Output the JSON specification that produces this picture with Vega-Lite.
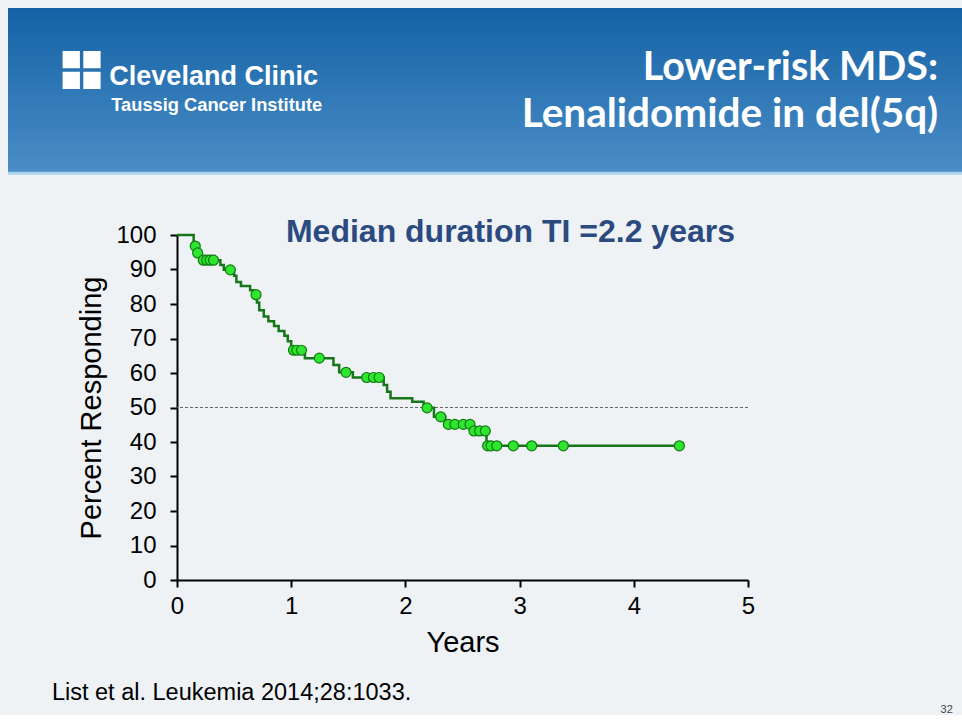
{
  "$schema": "https://vega.github.io/schema/vega-lite/v6.json",
  "background": "#eef2f5",
  "padding": {"left": 6, "top": 8, "right": 0, "bottom": 0},
  "spacing": 40,
  "config": {
    "view": {"stroke": null},
    "font": "Liberation Sans",
    "axis": {
      "domainColor": "black", "domainWidth": 2,
      "tickColor": "black", "tickWidth": 2, "tickSize": 7,
      "labelFont": "Liberation Sans", "labelFontSize": 24, "labelColor": "black", "labelOverlap": false, "labelFlush": false,
      "titleFont": "Liberation Sans", "titleFontSize": 29, "titleFontWeight": "normal", "titleColor": "black",
      "grid": false
    }
  },
  "vconcat": [
    {
      "width": 956,
      "height": 166,
      "view": {
        "stroke": null,
        "fill": {"gradient": "linear", "x1": 0, "y1": 0, "x2": 0, "y2": 1,
          "stops": [{"offset": 0, "color": "#1462a5"}, {"offset": 1, "color": "#4b8dc7"}]}
      },
      "data": {"values": [{}]},
      "layer": [
        {
          "mark": {"type": "rule", "color": "#a9d4ec", "strokeWidth": 3},
          "encoding": {"y": {"datum": 99.5, "type": "quantitative", "scale": {"domain": [0, 100], "reverse": true}, "axis": null}}
        },
        {
          "mark": {"type": "point", "filled": true, "color": "white", "opacity": 1, "size": 1444,
            "shape": "M-1,-1H-0.09V-0.09H-1Z M0.09,-1H1V-0.09H0.09Z M-1,0.09H-0.09V1H-1Z M0.09,0.09H1V1H0.09Z"},
          "encoding": {
            "x": {"datum": 7.7, "type": "quantitative", "scale": {"domain": [0, 100]}, "axis": null},
            "y": {"datum": 37.3, "type": "quantitative"}
          }
        },
        {
          "mark": {"type": "text", "text": "Cleveland Clinic", "font": "Liberation Sans", "fontWeight": "bold", "fontSize": 27, "color": "white", "align": "left", "baseline": "alphabetic"},
          "encoding": {"x": {"datum": 10.6, "type": "quantitative"}, "y": {"datum": 46.4, "type": "quantitative"}}
        },
        {
          "mark": {"type": "text", "text": "Taussig Cancer Institute", "font": "Liberation Sans", "fontWeight": "bold", "fontSize": 18.3, "color": "white", "align": "left", "baseline": "alphabetic"},
          "encoding": {"x": {"datum": 10.8, "type": "quantitative"}, "y": {"datum": 62.0, "type": "quantitative"}}
        },
        {
          "mark": {"type": "text", "text": "Lower-risk MDS:", "font": "Lato", "fontWeight": "bold", "fontSize": 39.5, "color": "white", "align": "right", "baseline": "alphabetic"},
          "encoding": {"x": {"datum": 97.3, "type": "quantitative"}, "y": {"datum": 43.4, "type": "quantitative"}}
        },
        {
          "mark": {"type": "text", "text": "Lenalidomide in del(5q)", "font": "Lato", "fontWeight": "bold", "fontSize": 40.5, "color": "white", "align": "right", "baseline": "alphabetic"},
          "encoding": {"x": {"datum": 97.3, "type": "quantitative"}, "y": {"datum": 71.7, "type": "quantitative"}}
        }
      ]
    },
    {
      "spacing": 0,
      "hconcat": [
        {
          "width": 43,
          "height": 1,
          "view": {"stroke": null},
          "data": {"values": [{}]},
          "mark": {"type": "point", "opacity": 0},
          "encoding": {}
        },
        {
          "width": 571,
          "height": 345,
          "view": {"stroke": null},
          "data": {"values": [
            {"t": 0, "p": 100, "c": 0},
            {"t": 0.146, "p": 96.8, "c": 0},
            {"t": 0.16, "p": 96.8, "c": 1},
            {"t": 0.172, "p": 94.8, "c": 0},
            {"t": 0.181, "p": 94.8, "c": 1},
            {"t": 0.195, "p": 92.7, "c": 0},
            {"t": 0.23, "p": 92.7, "c": 1},
            {"t": 0.26, "p": 92.7, "c": 1},
            {"t": 0.29, "p": 92.7, "c": 1},
            {"t": 0.32, "p": 92.7, "c": 1},
            {"t": 0.38, "p": 91.3, "c": 0},
            {"t": 0.41, "p": 89.9, "c": 0},
            {"t": 0.467, "p": 89.9, "c": 1},
            {"t": 0.5, "p": 88.2, "c": 0},
            {"t": 0.52, "p": 86.4, "c": 0},
            {"t": 0.56, "p": 85.2, "c": 0},
            {"t": 0.64, "p": 84.0, "c": 0},
            {"t": 0.67, "p": 82.7, "c": 0},
            {"t": 0.692, "p": 82.7, "c": 1},
            {"t": 0.7, "p": 80.4, "c": 0},
            {"t": 0.72, "p": 78.2, "c": 0},
            {"t": 0.76, "p": 76.4, "c": 0},
            {"t": 0.8, "p": 75.0, "c": 0},
            {"t": 0.85, "p": 73.6, "c": 0},
            {"t": 0.89, "p": 72.2, "c": 0},
            {"t": 0.94, "p": 70.8, "c": 0},
            {"t": 0.97, "p": 69.2, "c": 0},
            {"t": 1.0, "p": 66.6, "c": 0},
            {"t": 1.02, "p": 66.6, "c": 1},
            {"t": 1.05, "p": 66.6, "c": 1},
            {"t": 1.09, "p": 66.6, "c": 1},
            {"t": 1.12, "p": 64.3, "c": 0},
            {"t": 1.246, "p": 64.3, "c": 1},
            {"t": 1.37, "p": 62.3, "c": 0},
            {"t": 1.42, "p": 60.2, "c": 0},
            {"t": 1.48, "p": 60.2, "c": 1},
            {"t": 1.54, "p": 58.7, "c": 0},
            {"t": 1.661, "p": 58.7, "c": 1},
            {"t": 1.72, "p": 58.7, "c": 1},
            {"t": 1.77, "p": 58.7, "c": 1},
            {"t": 1.81, "p": 56.5, "c": 0},
            {"t": 1.84, "p": 54.6, "c": 0},
            {"t": 1.87, "p": 52.7, "c": 0},
            {"t": 2.06, "p": 51.7, "c": 0},
            {"t": 2.16, "p": 49.9, "c": 0},
            {"t": 2.19, "p": 49.9, "c": 1},
            {"t": 2.25, "p": 47.3, "c": 0},
            {"t": 2.309, "p": 47.3, "c": 1},
            {"t": 2.35, "p": 45.1, "c": 0},
            {"t": 2.376, "p": 45.1, "c": 1},
            {"t": 2.434, "p": 45.1, "c": 1},
            {"t": 2.507, "p": 45.1, "c": 1},
            {"t": 2.566, "p": 45.1, "c": 1},
            {"t": 2.58, "p": 43.2, "c": 0},
            {"t": 2.6, "p": 43.2, "c": 1},
            {"t": 2.65, "p": 43.2, "c": 1},
            {"t": 2.7, "p": 43.2, "c": 1},
            {"t": 2.71, "p": 38.9, "c": 0},
            {"t": 2.72, "p": 38.9, "c": 1},
            {"t": 2.75, "p": 38.9, "c": 1},
            {"t": 2.8, "p": 38.9, "c": 1},
            {"t": 2.945, "p": 38.9, "c": 1},
            {"t": 3.106, "p": 38.9, "c": 1},
            {"t": 3.383, "p": 38.9, "c": 1},
            {"t": 4.399, "p": 38.9, "c": 1}
          ]},
          "layer": [
            {
              "mark": {"type": "line", "interpolate": "step-after", "color": "#17751a", "strokeWidth": 2.5},
              "encoding": {
                "x": {"field": "t", "type": "quantitative", "scale": {"domain": [0, 5], "nice": false},
                  "axis": {"title": "Years", "tickCount": 20, "values": [0, 1, 2, 3, 4, 5], "format": "d", "labelPadding": 7, "titlePadding": 10}},
                "y": {"field": "p", "type": "quantitative", "scale": {"domain": [0, 100], "nice": false},
                  "axis": {"title": "Percent Responding", "tickCount": 20, "values": [0, 10, 20, 30, 40, 50, 60, 70, 80, 90, 100], "format": "d", "labelOverlap": false, "labelPadding": 14, "titlePadding": 9}}
              }
            },
            {
              "data": {"values": [{}]},
              "mark": {"type": "rule", "color": "#666666", "strokeDash": [3, 2], "strokeWidth": 1},
              "encoding": {"y": {"datum": 50, "type": "quantitative"}}
            },
            {
              "transform": [{"filter": "datum.c == 1"}],
              "mark": {"type": "point", "shape": "circle", "filled": true, "fill": "#2ee62e", "stroke": "#137a13", "strokeWidth": 1.2, "size": 100, "opacity": 1},
              "encoding": {
                "x": {"field": "t", "type": "quantitative"},
                "y": {"field": "p", "type": "quantitative"}
              }
            },
            {
              "data": {"values": [{}]},
              "mark": {"type": "text", "text": "Median duration TI =2.2 years", "fontSize": 32, "fontWeight": "bold", "color": "#2b4a80", "align": "center", "baseline": "alphabetic"},
              "encoding": {"x": {"datum": 2.92, "type": "quantitative"}, "y": {"datum": 98.0, "type": "quantitative"}}
            },
            {
              "data": {"values": [{}]},
              "mark": {"type": "text", "text": "List et al. Leukemia 2014;28:1033.", "fontSize": 23.5, "color": "black", "align": "left", "baseline": "alphabetic"},
              "encoding": {"x": {"datum": -1.095, "type": "quantitative"}, "y": {"datum": -34.8, "type": "quantitative"}}
            },
            {
              "data": {"values": [{}]},
              "mark": {"type": "text", "text": "32", "fontSize": 11, "color": "#444444", "align": "center", "baseline": "alphabetic"},
              "encoding": {"x": {"datum": 6.74, "type": "quantitative"}, "y": {"datum": -38.5, "type": "quantitative"}}
            }
          ]
        }
      ]
    }
  ]
}
